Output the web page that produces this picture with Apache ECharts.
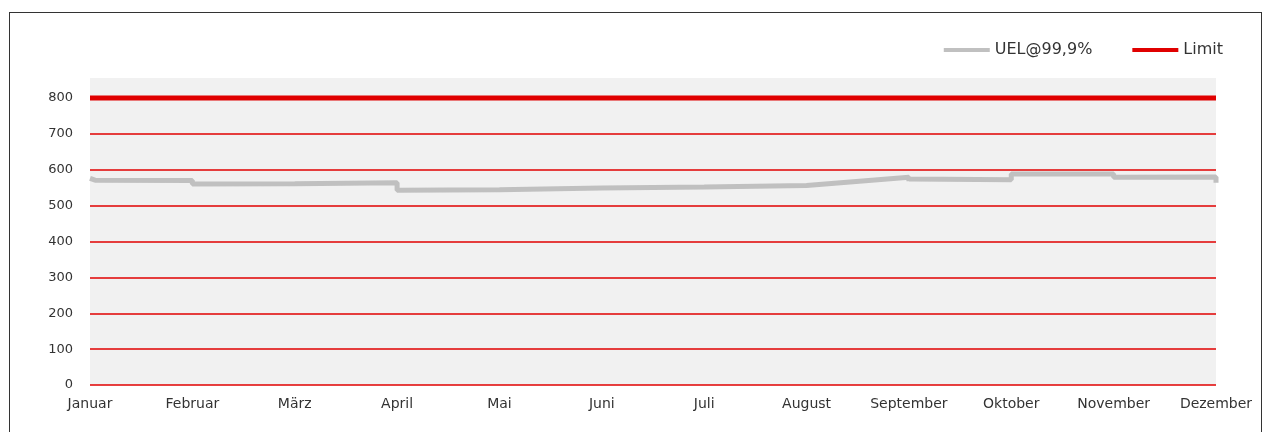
<!DOCTYPE html>
<html>
<head>
<meta charset="utf-8">
<script src="https://cdn.jsdelivr.net/npm/echarts@6/dist/echarts.min.js"></script>
<style>
html,body{margin:0;padding:0;background:#fff;}
#c{position:absolute;left:0;top:0;width:1264px;height:432px;}
#frame{position:absolute;left:9px;top:12px;width:1251px;height:440px;border:1px solid #333;pointer-events:none;}
</style>
</head>
<body>
<div id="c"></div>
<div id="frame"></div>
<script>
const months = ['Januar','Februar','März','April','Mai','Juni','Juli','August','September','Oktober','November','Dezember'];
const yTicks = [0,100,200,300,400,500,600,700,800];
// UEL@99,9% : [month position, value]
const uelPoints = [
  [0,576],[0.05,571],[1,570],[1,560],[2,561],[2,556],[2,562],[3,564],[3,569],[3,543],
  [4,544],[4,548],[4,546],[5,549],[5,552],[6,552],[6,550],[6,553],[7,556],[7,561],[7,558],
  [8,579],[8,568],[8,574],[9,572],[9,588],[10,588],[10,579],[11,580],[11,564]
];
const limitValues = [800,800,800,800,800,800,800,800,800,800,800,800];

const chart = echarts.init(document.getElementById('c'));
const red = '#e00000';
const font = 'DejaVu Sans, Liberation Sans, Arial, sans-serif';
chart.setOption({
  animation:false,
  backgroundColor:'#fff',
  textStyle:{fontFamily:font},
  legend:{
    right:36, top:37,
    itemWidth:46, itemHeight:4, itemGap:40,
    textStyle:{fontSize:16,color:'#333',fontFamily:font},
    data:[{name:'UEL@99,9%',icon:'rect'},{name:'Limit',icon:'rect'}]
  },
  grid:[
    {left:90,right:48,top:78,bottom:47,show:true,backgroundColor:'#f1f1f1',borderWidth:0,z:0},
    {left:90,right:48,top:98,bottom:47,show:false}
  ],
  xAxis:[
    {gridIndex:0,type:'value',min:0,max:1,show:false},
    {gridIndex:1,type:'value', min:0, max:months.length-1, interval:1,
     axisLine:{show:false}, axisTick:{show:false}, splitLine:{show:false},
     axisLabel:{formatter:v=>months[v]||'', fontSize:14, color:'#333', margin:12, fontFamily:font}}
  ],
  yAxis:[
    {gridIndex:0,type:'value',min:0,max:1,show:false},
    {gridIndex:1,type:'value', min:0, max:800, interval:100,
     axisLine:{show:false}, axisTick:{show:false},
     axisLabel:{formatter:v=>yTicks.indexOf(v)>=0?String(v):'', fontSize:13, color:'#333', margin:17, fontFamily:font},
     splitLine:{show:true,lineStyle:{width:1.5,color:'#e00000'}}}
  ],
  series:[
    {name:'UEL@99,9%',type:'line',xAxisIndex:1,yAxisIndex:1,data:uelPoints,showSymbol:false,symbol:'none',clip:false,
     lineStyle:{color:'#c0c0c0',width:5},itemStyle:{color:'#c0c0c0'},z:3},
    {name:'Limit',type:'line',xAxisIndex:1,yAxisIndex:1,data:limitValues.map((v,i)=>[i,v]),showSymbol:false,symbol:'none',clip:false,
     lineStyle:{color:red,width:5},itemStyle:{color:red},z:4}
  ]
});
</script>
</body>
</html>
